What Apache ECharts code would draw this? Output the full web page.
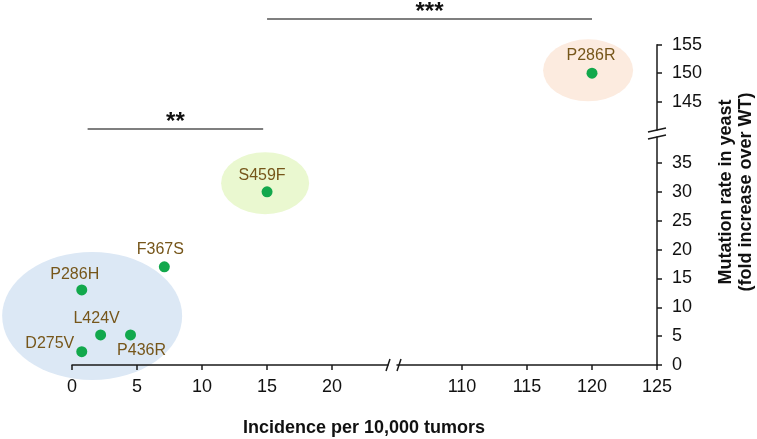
<!DOCTYPE html>
<html><head><meta charset="utf-8">
<script src="https://cdn.jsdelivr.net/npm/echarts@6/dist/echarts.min.js"></script>
<style>html,body{margin:0;padding:0;background:#fff}#c{width:757px;height:439px}</style>
</head><body><div id="c"></div>
<script>
// ---- data ----
const mutations = ['D275V', 'L424V', 'P436R', 'P286H', 'F367S', 'S459F', 'P286R'];
const incidence = [0.75, 2.2, 4.5, 0.75, 7.1, 15.0, 120.0];
const mutationRate = [2.3, 5.2, 5.2, 13.0, 17.0, 30.0, 150.0];
const xTicksLow = [0, 5, 10, 15, 20];
const xTicksHigh = [110, 115, 120, 125];
const yTicksLow = [0, 5, 10, 15, 20, 25, 30, 35];
const yTicksHigh = [145, 150, 155];
const groupX = [1.55, 14.85, 119.7];
const groupY = [8.5, 31.5, 150.5];
const sigLabels = ['**', '***'];
const sigFrom = [1.2, 15];
const sigTo = [14.7, 120];
const xTitle = 'Incidence per 10,000 tumors';
const yTitle = ['Mutation rate in yeast', '(fold increase over WT)'];

// ---- styles ----
const FONT = '"Liberation Sans", Arial, sans-serif';
const AX = '#1a1a1a';
const labelColor = '#76561a';
const dotColor = '#12a84c';
const ellipseColors = ['#dce8f5', '#eaf8d0', '#fcebdf'];
const ellipseSizes = [[180, 128], [88, 62], [90, 62]];
const labelStyle = {
  D275V: {position: 'left', distance: 2, offset: [0, -8]},
  L424V: {position: 'top', distance: 3, offset: [-4, 0]},
  P436R: {position: 'bottom', distance: 2, offset: [11, 0]},
  P286H: {position: 'top', distance: 2, offset: [-7, 0]},
  F367S: {position: 'top', distance: 4, offset: [-4, 0]},
  S459F: {position: 'top', distance: 3, offset: [-5, 0]},
  P286R: {position: 'top', distance: 4, offset: [-1, 0]}
};

const chart = echarts.init(document.getElementById('c'), null, {renderer: 'canvas'});

const G_LOW_TOP = 137, G_LOW_H = 228, G_UP_TOP = 44.7, G_UP_H = 85.3;
const grids = [
  {left: 72, top: G_LOW_TOP, width: 316, height: G_LOW_H},
  {left: 397, top: G_LOW_TOP, width: 260, height: G_LOW_H},
  {left: 397, top: G_UP_TOP, width: 260, height: G_UP_H}
];

const axisCommon = {
  axisLine: {show: true, lineStyle: {color: AX, width: 1.5}},
  axisTick: {show: true, length: 5, lineStyle: {color: AX, width: 1.5}},
  splitLine: {show: false},
  axisLabel: {color: '#111', fontFamily: FONT, fontSize: 18}
};

function mk(base) { return JSON.parse(JSON.stringify(base)); }

const xAxes = [
  Object.assign(mk(axisCommon), {type: 'value', gridIndex: 0, min: 0, max: 24.3, position: 'bottom',
    axisTick: Object.assign({}, axisCommon.axisTick, {customValues: xTicksLow}),
    axisLabel: Object.assign({}, axisCommon.axisLabel, {customValues: xTicksLow, margin: 13})}),
  Object.assign(mk(axisCommon), {type: 'value', gridIndex: 1, min: 105, max: 125, position: 'bottom',
    axisTick: Object.assign({}, axisCommon.axisTick, {customValues: xTicksHigh}),
    axisLabel: Object.assign({}, axisCommon.axisLabel, {customValues: xTicksHigh, margin: 13})}),
  {type: 'value', gridIndex: 2, min: 105, max: 125, show: false}
];
const yAxes = [
  {type: 'value', gridIndex: 0, min: 0, max: 39.5, show: false},
  Object.assign(mk(axisCommon), {type: 'value', gridIndex: 1, min: 0, max: 39.5, position: 'right',
    axisTick: Object.assign({}, axisCommon.axisTick, {customValues: yTicksLow}),
    axisLabel: Object.assign({}, axisCommon.axisLabel, {customValues: yTicksLow, margin: 15})}),
  Object.assign(mk(axisCommon), {type: 'value', gridIndex: 2, min: 140, max: 155, position: 'right',
    axisTick: Object.assign({}, axisCommon.axisTick, {customValues: yTicksHigh}),
    axisLabel: Object.assign({}, axisCommon.axisLabel, {customValues: yTicksHigh, margin: 15})})
];

function pointData(filterFn) {
  const out = [];
  for (let i = 0; i < mutations.length; i++) {
    if (!filterFn(incidence[i])) continue;
    const ls = labelStyle[mutations[i]];
    out.push({
      name: mutations[i],
      value: [incidence[i], mutationRate[i]],
      label: {show: true, position: ls.position, distance: ls.distance, offset: ls.offset}
    });
  }
  return out;
}
const pointLabel = {show: true, formatter: '{b}', color: labelColor, fontFamily: FONT, fontSize: 16};

function ellipseData(idxs) {
  return idxs.map(i => ({value: [groupX[i], groupY[i]], symbolSize: ellipseSizes[i],
    itemStyle: {color: ellipseColors[i], opacity: 1}}));
}

const option = {
  animation: false,
  backgroundColor: '#fff',
  grid: grids,
  xAxis: xAxes,
  yAxis: yAxes,
  series: [
    {type: 'scatter', xAxisIndex: 0, yAxisIndex: 0, z: -1, clip: false, silent: true,
      symbol: 'circle', itemStyle: {opacity: 1}, data: ellipseData([0, 1])},
    {type: 'scatter', xAxisIndex: 2, yAxisIndex: 2, z: -1, clip: false, silent: true,
      symbol: 'circle', itemStyle: {opacity: 1}, data: ellipseData([2])},
    {type: 'scatter', xAxisIndex: 0, yAxisIndex: 0, clip: false, symbol: 'circle', symbolSize: 11,
      itemStyle: {color: dotColor, opacity: 1}, label: pointLabel, data: pointData(v => v < 100)},
    {type: 'scatter', xAxisIndex: 2, yAxisIndex: 2, clip: false, symbol: 'circle', symbolSize: 11,
      itemStyle: {color: dotColor, opacity: 1}, label: pointLabel, data: pointData(v => v >= 100)}
  ]
};
chart.setOption(option);

// ---- annotations ----
const xLowEnd = grids[0].left + grids[0].width;
const xHighStart = grids[1].left;
const xAxisY = G_LOW_TOP + G_LOW_H;
const yAxisX = grids[1].left + grids[1].width;
const upBottom = G_UP_TOP + G_UP_H;

function px(value) {
  if (value < 100) return chart.convertToPixel({xAxisIndex: 0}, value);
  return chart.convertToPixel({xAxisIndex: 1}, value);
}
const sigY = [129, 19];
const g = [];
for (let i = 0; i < sigLabels.length; i++) {
  const a = px(sigFrom[i]), b = px(sigTo[i]);
  g.push({type: 'line', shape: {x1: a, y1: sigY[i], x2: b, y2: sigY[i]}, style: {stroke: '#555', lineWidth: 1.5}});
  g.push({type: 'text', x: (a + b) / 2, y: sigY[i] - 7, style: {text: sigLabels[i], font: 'bold 24px ' + FONT,
    fill: '#111', textAlign: 'center', textVerticalAlign: 'middle'}});
}
// axis breaks
const brk = {stroke: AX, lineWidth: 1.5};
g.push({type: 'line', shape: {x1: xLowEnd - 2, y1: xAxisY + 6, x2: xLowEnd + 2, y2: xAxisY - 6}, style: brk});
g.push({type: 'line', shape: {x1: xHighStart, y1: xAxisY + 6, x2: xHighStart + 4, y2: xAxisY - 6}, style: brk});
g.push({type: 'line', shape: {x1: yAxisX - 9, y1: upBottom + 2, x2: yAxisX + 9, y2: upBottom - 2}, style: brk});
g.push({type: 'line', shape: {x1: yAxisX - 9, y1: G_LOW_TOP + 2, x2: yAxisX + 9, y2: G_LOW_TOP - 2}, style: brk});
// axis titles
g.push({type: 'text', x: 364, y: 428, style: {text: xTitle, font: 'bold 18px ' + FONT, fill: '#111',
  textAlign: 'center', textVerticalAlign: 'middle'}});
g.push({type: 'text', x: 726, y: 192, rotation: Math.PI / 2, style: {text: yTitle[0], font: 'bold 18px ' + FONT, fill: '#111',
  textAlign: 'center', textVerticalAlign: 'middle'}});
g.push({type: 'text', x: 746, y: 192, rotation: Math.PI / 2, style: {text: yTitle[1], font: 'bold 18px ' + FONT, fill: '#111',
  textAlign: 'center', textVerticalAlign: 'middle'}});
chart.setOption({graphic: g.map(e => Object.assign({silent: true, z: 100}, e))});
</script>
</body></html>
